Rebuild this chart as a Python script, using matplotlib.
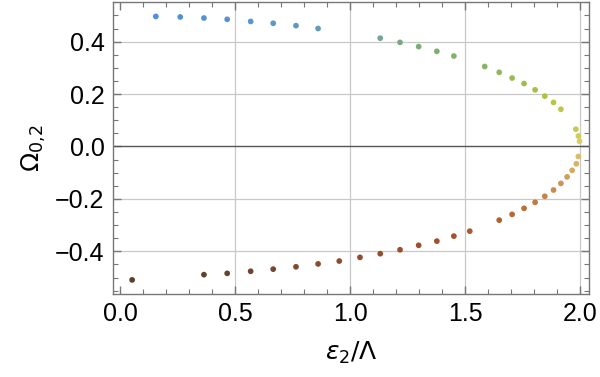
import numpy as np
import matplotlib
matplotlib.use("Agg")
import matplotlib.pyplot as plt
from matplotlib.colors import LinearSegmentedColormap
from matplotlib.ticker import MultipleLocator

# upper branch (blue -> green -> yellow), ordered along the curve
upper_x = [0.155, 0.261, 0.364, 0.465, 0.567, 0.665, 0.764, 0.860,
           1.130, 1.216, 1.297, 1.376, 1.450, 1.584, 1.647, 1.703,
           1.755, 1.803, 1.845, 1.883, 1.915, 1.980, 1.991, 1.996]
upper_y = [0.496, 0.494, 0.490, 0.485, 0.477, 0.470, 0.461, 0.450,
           0.413, 0.397, 0.381, 0.363, 0.345, 0.305, 0.283, 0.261,
           0.240, 0.216, 0.192, 0.168, 0.142, 0.066, 0.040, 0.020]

# lower branch (orange -> brown), continuing from x=2 back to x=0
lower_x = [1.991, 1.982, 1.964, 1.942, 1.915, 1.883, 1.845, 1.803,
           1.755, 1.703, 1.647, 1.519, 1.450, 1.376, 1.297, 1.216,
           1.130, 1.042, 0.952, 0.860, 0.764, 0.665, 0.567, 0.465,
           0.364, 0.052]
lower_y = [-0.038, -0.066, -0.091, -0.116, -0.141, -0.166, -0.190, -0.213,
           -0.236, -0.259, -0.281, -0.323, -0.342, -0.361, -0.377, -0.394,
           -0.409, -0.423, -0.437, -0.448, -0.459, -0.468, -0.476, -0.484,
           -0.489, -0.509]

x_ticks = [0.0, 0.5, 1.0, 1.5, 2.0]
y_ticks = [-0.4, -0.2, 0.0, 0.2, 0.4]

cmap = LinearSegmentedColormap.from_list("path", [
    (0.00, "#4f8fdc"), (0.14, "#6399bd"), (0.16, "#74a58e"),
    (0.27, "#8ab560"), (0.38, "#b4c43c"), (0.47, "#dccf5c"),
    (0.49, "#dbbd68"), (0.56, "#cf9b58"), (0.66, "#b96e36"),
    (0.74, "#a4502a"), (0.88, "#8a4a2e"), (1.00, "#5a3f2c"),
])

plt.rcParams["font.family"] = ["Liberation Sans", "DejaVu Sans"]
plt.rcParams["mathtext.fontset"] = "dejavusans"

fig = plt.figure(figsize=(6.0, 3.77), dpi=100)
ax = fig.add_axes([0.188, 0.220, 0.794, 0.776])

xs = np.array(upper_x + lower_x)
ys = np.array(upper_y + lower_y)
t = np.linspace(0, 1, len(xs))
ax.scatter(xs, ys, c=cmap(t), s=17, linewidths=0, zorder=3)

ax.set_xlim(-0.032, 2.038)
ax.set_ylim(-0.563, 0.553)

grid_c = "#c8c8c8"
for gx in x_ticks[1:]:
    ax.axvline(gx, color=grid_c, lw=0.9, zorder=1)
for gy in y_ticks:
    if gy != 0:
        ax.axhline(gy, color=grid_c, lw=0.9, zorder=1)
ax.axhline(0, color="#555555", lw=1.0, zorder=2)

ax.set_xticks(x_ticks)
ax.set_yticks(y_ticks)
ax.set_xticklabels([f"{v:.1f}" for v in x_ticks])
ax.set_yticklabels([f"{v:.1f}".replace("-", "\u2212") for v in y_ticks])
ax.xaxis.set_minor_locator(MultipleLocator(0.1))
ax.yaxis.set_minor_locator(MultipleLocator(0.05))

spine_c = "#777777"
for s in ax.spines.values():
    s.set_color(spine_c)
    s.set_linewidth(1.0)
ax.tick_params(which="both", direction="in", top=True, right=True,
               color=spine_c, labelsize=18, labelcolor="black")
ax.tick_params(which="major", length=6, width=1.0, pad=6)
ax.tick_params(which="minor", length=3.5, width=0.8)

ax.set_xlabel(r"$\epsilon_2/\Lambda$", fontsize=18, labelpad=10)
ax.set_ylabel(r"$\mathrm{\Omega}_{0,\!2}$", fontsize=18, labelpad=5)

fig.savefig("out.png", dpi=100)
